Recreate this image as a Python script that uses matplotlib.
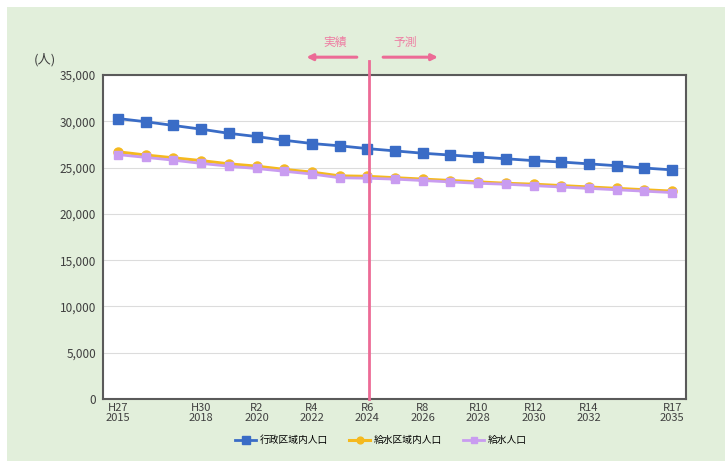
import matplotlib.pyplot as plt
from matplotlib.patches import Rectangle
from matplotlib.ticker import FuncFormatter
import matplotlib.transforms as mtransforms

plt.rcParams['font.family'] = ['Noto Sans CJK JP', 'DejaVu Sans']

years = list(range(2015, 2036))
gyosei = [30300, 29950, 29550, 29150, 28700, 28350, 27950, 27600, 27350, 27050,
          26800, 26550, 26350, 26150, 25950, 25750, 25600, 25400, 25200, 24950, 24750]
kyusui_kuiki = [26700, 26350, 26050, 25750, 25400, 25150, 24800, 24500, 24100, 24050,
                23900, 23750, 23600, 23450, 23300, 23200, 23050, 22900, 22750, 22600, 22450]
kyusui = [26400, 26100, 25800, 25450, 25150, 24900, 24600, 24300, 23900, 23850,
          23750, 23600, 23450, 23300, 23200, 23050, 22900, 22750, 22600, 22450, 22300]
labels = ['行政区域内人口', '給水区域内人口', '給水人口']

tick_years = [2015, 2018, 2020, 2022, 2024, 2026, 2028, 2030, 2032, 2035]
tick_era = ['H27', 'H30', 'R2', 'R4', 'R6', 'R8', 'R10', 'R12', 'R14', 'R17']
split_year = 2024

blue = '#3a6cc6'
yellow = '#f5b91e'
purple = '#c99cf0'
pink = '#ec6b96'

fig = plt.figure(figsize=(7.25, 4.61), dpi=100)
fig.patch.set_facecolor('white')
fig.patches.append(Rectangle((7 / 725, 0), 1, 1 - 7 / 461, transform=fig.transFigure,
                             facecolor='#e2efdb', edgecolor='none', zorder=-10))

ax = fig.add_axes([103 / 725, 62 / 461, 583 / 725, 324 / 461])
ax.set_facecolor('white')

ax.plot(years, gyosei, color=blue, lw=2, marker='s', ms=7, label=labels[0], zorder=4)
ax.plot(years, kyusui_kuiki, color=yellow, lw=2.2, marker='o', ms=6.5, label=labels[1], zorder=3)
ax.plot(years, kyusui, color=purple, lw=2, marker='s', ms=6, label=labels[2], zorder=3.5)

ax.set_xlim(2014.46, 2035.5)
ax.set_ylim(0, 35000)
ax.set_yticks(range(0, 35001, 5000))
ax.yaxis.set_major_formatter(FuncFormatter(lambda v, p: f'{int(v):,}'))
ax.set_xticks(tick_years)
ax.set_xticklabels([f'{e}\n{y}' for e, y in zip(tick_era, tick_years)], linespacing=1.0)
ax.tick_params(length=0, colors='#404040')
ax.tick_params(axis='y', labelsize=8.5, pad=5)
ax.tick_params(axis='x', labelsize=8, pad=3)
ax.grid(axis='y', color='#dcdcdc', lw=0.8)
ax.set_axisbelow(True)
for s in ax.spines.values():
    s.set_color('#5a5a5a')
    s.set_linewidth(1.5)

# boundary between actual and forecast
trans = mtransforms.blended_transform_factory(ax.transData, ax.transAxes)
ax.plot([split_year + 0.07] * 2, [0, 1.043], transform=trans, color=pink, lw=2,
        clip_on=False, zorder=6)
ax.annotate('', xy=(2021.8, 1.055), xytext=(2023.62, 1.055), xycoords=trans,
            textcoords=trans, arrowprops=dict(arrowstyle='-|>', color=pink, lw=2.2,
                                              mutation_scale=9, shrinkA=0, shrinkB=0))
ax.annotate('', xy=(2026.55, 1.055), xytext=(2024.57, 1.055), xycoords=trans,
            textcoords=trans, arrowprops=dict(arrowstyle='-|>', color=pink, lw=2.2,
                                              mutation_scale=9, shrinkA=0, shrinkB=0))
ax.text(2022.83, 1.1, '実績', transform=trans, color='#ee7ea3', fontsize=8.5,
        ha='center', va='center')
ax.text(2025.36, 1.1, '予測', transform=trans, color='#ee7ea3', fontsize=8.5,
        ha='center', va='center')

fig.text(45 / 725, 1 - 60 / 461, '(人)', fontsize=9.5, color='#404040', ha='center', va='center')

fig.legend(loc='center', bbox_to_anchor=(0.525, 1 - 440 / 461), ncol=3, frameon=False,
           fontsize=7, handlelength=2.2, columnspacing=2.2, handletextpad=0.3,
           markerscale=0.75)

fig.savefig('out.png', dpi=100, facecolor=fig.get_facecolor())
